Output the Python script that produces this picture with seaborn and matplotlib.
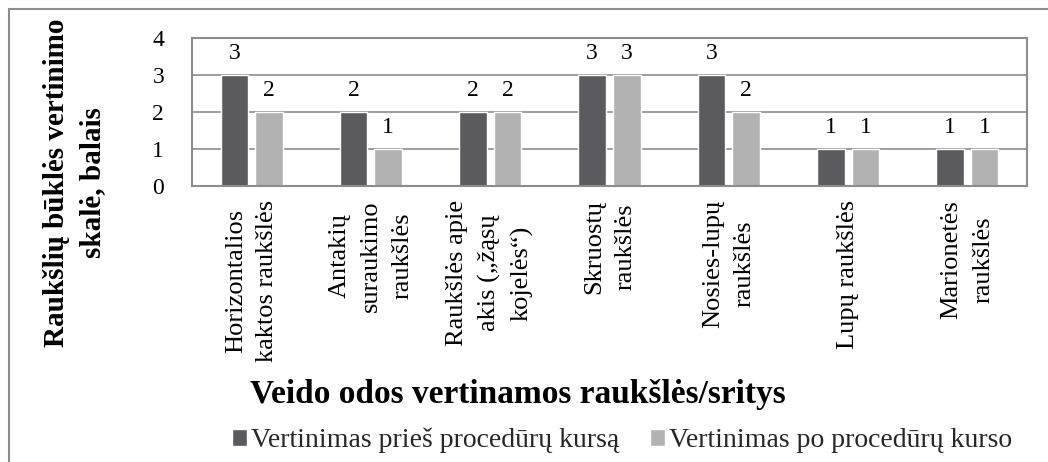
import matplotlib
matplotlib.use("Agg")
import matplotlib.pyplot as plt
import seaborn as sns
import pandas as pd
from matplotlib.lines import Line2D

# ---------- DATA ----------
categories = [
    "Horizontalios\nkaktos raukšlės",
    "Antakių\nsuraukimo\nraukšlės",
    "Raukšlės apie\nakis („žąsų\nkojelės“)",
    "Skruostų\nraukšlės",
    "Nosies-lupų\nraukšlės",
    "Lupų raukšlės",
    "Marionetės\nraukšlės",
]
before = [3, 2, 2, 3, 3, 1, 1]
after = [2, 1, 2, 3, 2, 1, 1]
series = ["Vertinimas prieš procedūrų kursą", "Vertinimas po procedūrų kurso"]
colors = ["#5b5b5f", "#b2b2b2"]

df = pd.DataFrame({
    "sritis": categories * 2,
    "balas": before + after,
    "vertinimas": [series[0]] * len(categories) + [series[1]] * len(categories),
})

sns.set_theme(style="white")
plt.rcParams["font.family"] = ["Liberation Serif", "DejaVu Serif"]

W, H = 1048, 462
fig = plt.figure(figsize=(W / 100, H / 100), dpi=100)
ax = fig.add_axes([192 / W, 1 - 186 / H, (1027 - 192) / W, (186 - 38) / H])

sns.barplot(data=df, x="sritis", y="balas", hue="vertinimas", order=categories,
            hue_order=series, palette=colors, width=0.58, gap=0.2,
            saturation=1, ax=ax, legend=True)

for c in ax.containers:
    ax.bar_label(c, padding=8, fontsize=17, color="black")

ax.set_ylim(0, 4)
ax.set_yticks([0, 1, 2, 3, 4])
ax.yaxis.grid(True, color="#8c8c8c", linewidth=1.2)
ax.set_axisbelow(True)
for s in ax.spines.values():
    s.set_color("#8c8c8c")
    s.set_linewidth(1.5)
ax.tick_params(axis="y", labelsize=17, length=0, pad=20, labelcolor="black")
ax.tick_params(axis="x", labelsize=19, length=0, pad=10, rotation=90,
               labelcolor="black")
for t in ax.get_xticklabels():
    t.set_linespacing(1.55)

# axis titles
ax.set_xlabel("Veido odos vertinamos raukšlės/sritys", fontsize=24,
              fontweight="bold", color="black")
ax.xaxis.set_label_coords(0.39, -1.41)
ax.xaxis.label.set_verticalalignment("center")
ax.set_ylabel("Raukšlių būklės vertinimo\nskalė, balais", fontsize=21,
              fontweight="bold", color="black", linespacing=1.45)
ax.yaxis.set_label_coords(-0.141, 0.02)
ax.yaxis.label.set_verticalalignment("center")

leg = ax.legend(loc="center", bbox_to_anchor=(0.515, -1.72),
                ncol=2, frameon=False, fontsize=20, handlelength=0.55,
                handleheight=0.55, handletextpad=0.15, columnspacing=1.1)

# figure frame (top and left)
fig.add_artist(Line2D([9 / W, 9 / W], [0, 1 - 9 / H],
                      transform=fig.transFigure, color="#8c8c8c", linewidth=1.5))
fig.add_artist(Line2D([9 / W, 1], [1 - 9 / H, 1 - 9 / H],
                      transform=fig.transFigure, color="#8c8c8c", linewidth=1.5))

fig.savefig("out.png", dpi=100, facecolor="white")
